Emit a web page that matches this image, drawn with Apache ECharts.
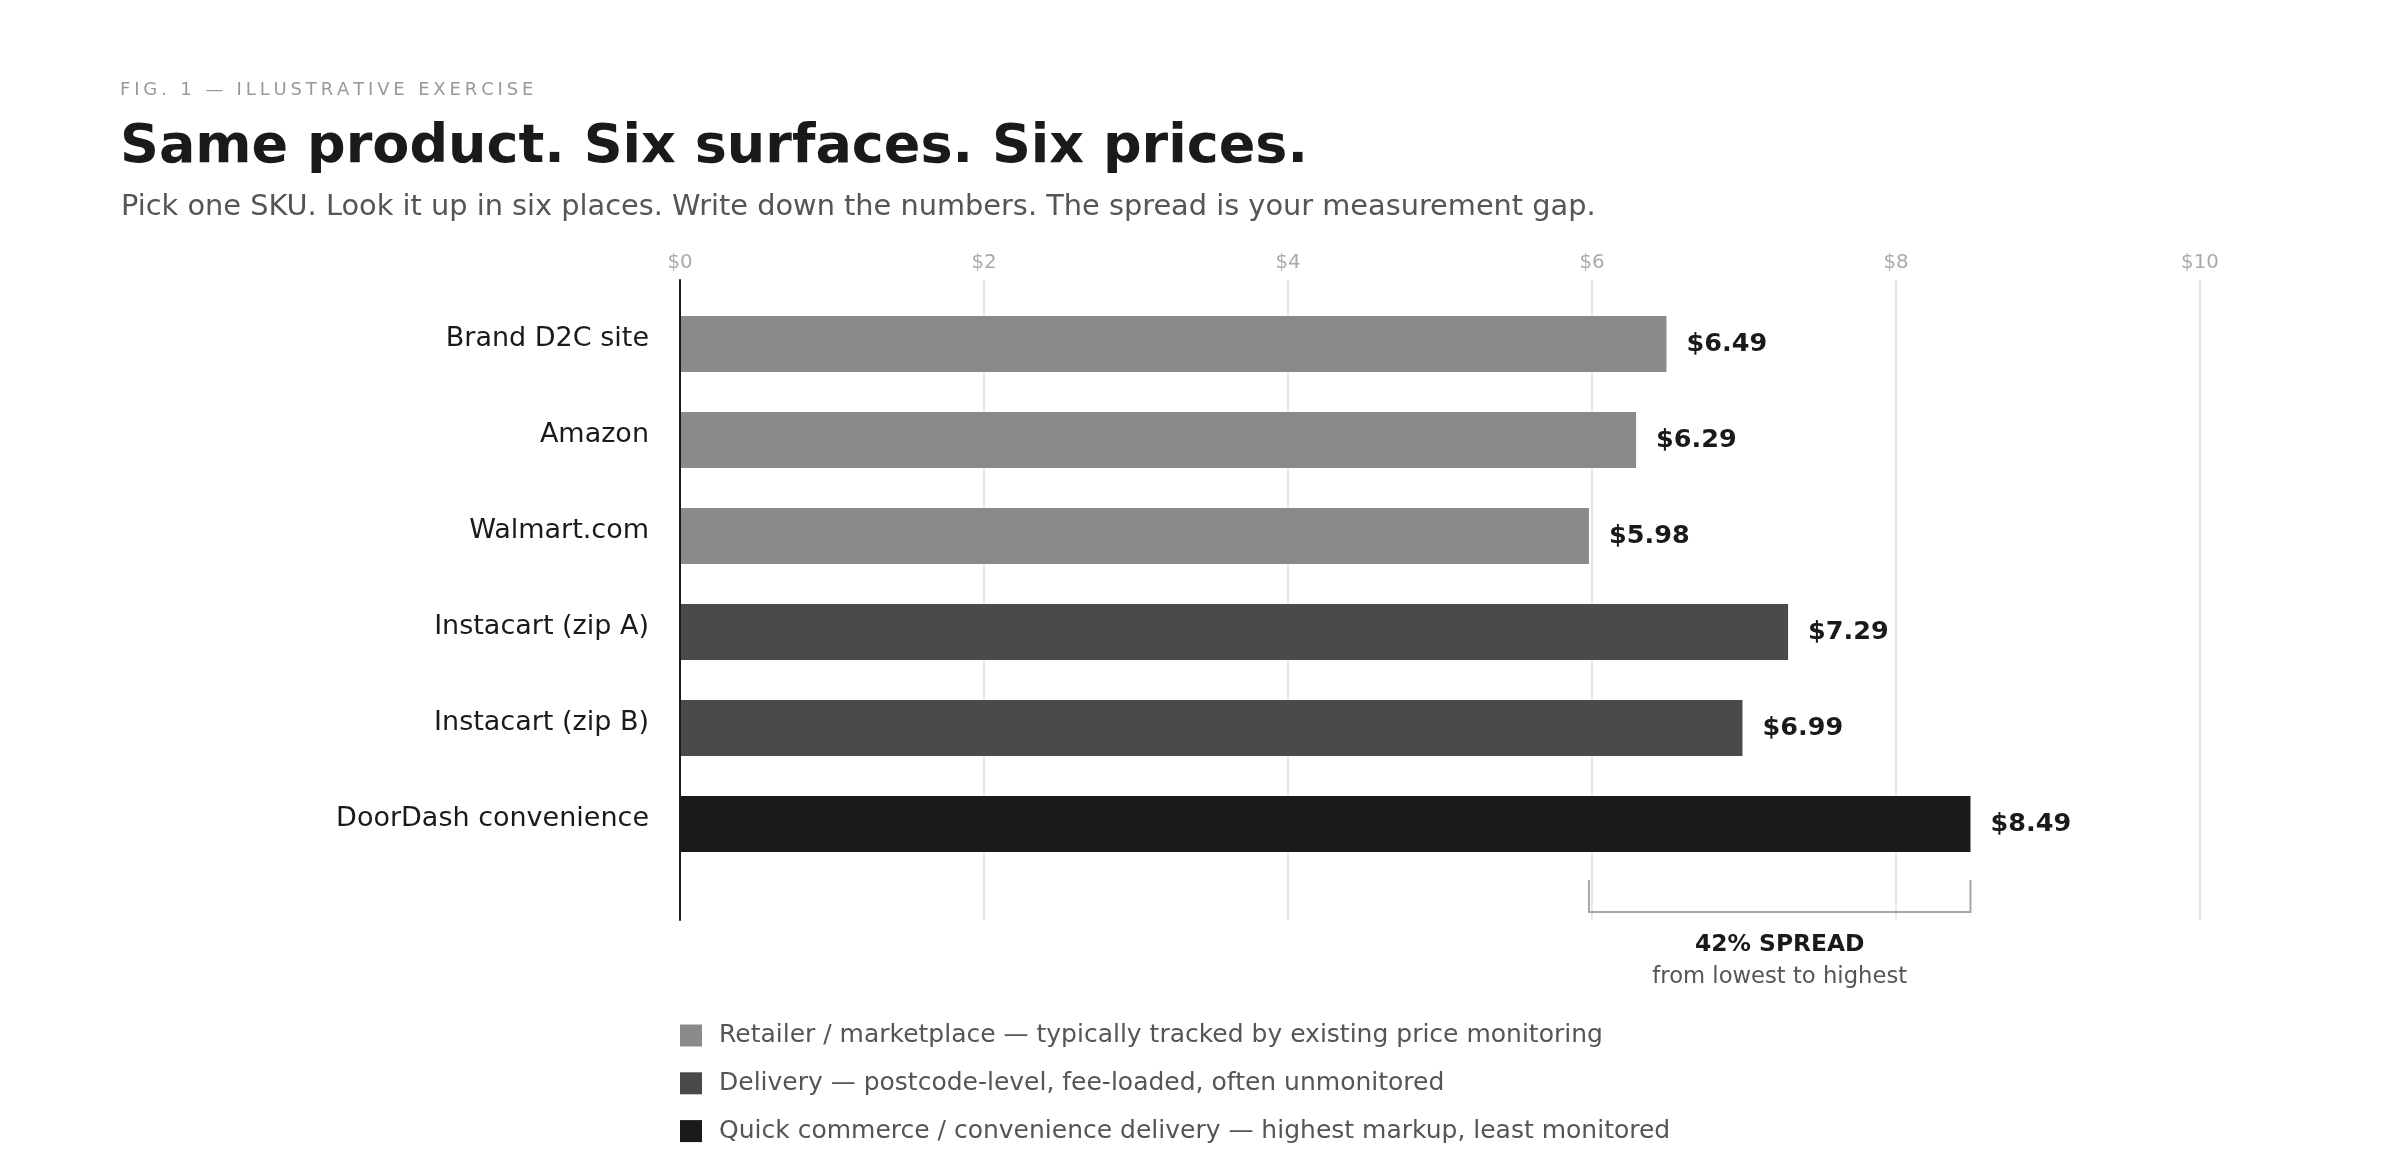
<!DOCTYPE html>
<html>
<head>
<meta charset="utf-8">
<script src="https://cdn.jsdelivr.net/npm/echarts@6/dist/echarts.min.js"></script>
<style>
  html, body { margin: 0; padding: 0; background: #ffffff; }
  #chart { width: 2400px; height: 1160px; }
</style>
</head>
<body>
<div id="chart"></div>
<script>
// ---- data ----
const categories = ['Brand D2C site', 'Amazon', 'Walmart.com', 'Instacart (zip A)', 'Instacart (zip B)', 'DoorDash convenience'];
const prices = [6.49, 6.29, 5.98, 7.29, 6.99, 8.49];
const tierOf = ['retail', 'retail', 'retail', 'delivery', 'delivery', 'quick'];
const tierKeys = ['retail', 'delivery', 'quick'];
const tierNames = [
  'Retailer / marketplace — typically tracked by existing price monitoring',
  'Delivery — postcode-level, fee-loaded, often unmonitored',
  'Quick commerce / convenience delivery — highest markup, least monitored'
];
const tierColors = ['#8a8a8a', '#4a4a4a', '#1a1a1a'];
const axisMin = 0, axisMax = 10, axisStep = 2;
const figLabel = 'FIG. 1 — ILLUSTRATIVE EXERCISE';
const titleText = 'Same product. Six surfaces. Six prices.';
const subtitleText = 'Pick one SKU. Look it up in six places. Write down the numbers. The spread is your measurement gap.';
const spreadSub = 'from lowest to highest';

// ---- derived ----
const low = Math.min(...prices);
const high = Math.max(...prices);
const spreadPct = Math.round((high - low) / low * 100);
const FONT = 'DejaVu Sans';

const figRich = figLabel.split('').map(c => '{c|' + c + '}').join('');

const barSeries = tierKeys.map((k, ti) => ({
  name: tierNames[ti],
  type: 'bar',
  xAxisIndex: 0,
  yAxisIndex: 0,
  barWidth: 56,
  barGap: '-100%',
  itemStyle: { color: tierColors[ti] },
  label: {
    show: true,
    position: 'right',
    distance: 20,
    formatter: p => '$' + Number(p.value).toFixed(2),
    fontFamily: FONT,
    fontSize: 25.5,
    fontWeight: 'bold',
    color: '#1a1a1a'
  },
  data: prices.map((v, i) => tierOf[i] === k ? v : '-')
}));

const bracketSeries = {
  type: 'custom',
  xAxisIndex: 1,
  yAxisIndex: 1,
  silent: true,
  clip: false,
  z: 10,
  data: [[low, high]],
  renderItem: function (params, api) {
    const a = api.coord([api.value(0), 0]);
    const b = api.coord([api.value(1), 0]);
    const base = a[1];
    const mid = (a[0] + b[0]) / 2;
    return {
      type: 'group',
      children: [
        {
          type: 'polyline',
          shape: { points: [[a[0], base - 40], [a[0], base - 8], [b[0], base - 8], [b[0], base - 40]] },
          style: { stroke: '#a6a6a6', lineWidth: 2, fill: null }
        },
        {
          type: 'text',
          style: {
            x: mid, y: base + 24.5, text: spreadPct + '% SPREAD',
            align: 'center', verticalAlign: 'middle',
            font: 'bold 23.4px "DejaVu Sans"', fill: '#1a1a1a'
          }
        },
        {
          type: 'text',
          style: {
            x: mid, y: base + 57, text: spreadSub,
            align: 'center', verticalAlign: 'middle',
            font: '22.7px "DejaVu Sans"', fill: '#555555'
          }
        }
      ]
    };
  }
};

const option = {
  animation: false,
  backgroundColor: '#ffffff',
  textStyle: { fontFamily: FONT },
  title: [
    {
      text: figRich, left: 120, top: 81.5, padding: 0,
      textStyle: { fontWeight: 'normal', rich: { c: { fontFamily: FONT, fontSize: 18, fontWeight: 'normal', color: '#999999', padding: [0, 3.85, 0, 0] } } }
    },
    {
      text: titleText, left: 120, top: 121, padding: 0,
      textStyle: { fontFamily: FONT, fontSize: 54, fontWeight: 'bold', color: '#1a1a1a' }
    },
    {
      text: subtitleText, left: 121, top: 193.5, padding: 0,
      textStyle: { fontFamily: FONT, fontSize: 28.8, fontWeight: 'normal', color: '#555555' }
    }
  ],
  legend: {
    orient: 'vertical',
    left: 680,
    top: 1023,
    padding: 0,
    itemWidth: 22,
    itemHeight: 22,
    itemGap: 22.8,
    icon: 'rect',
    selectedMode: false,
    data: tierNames,
    textStyle: { fontFamily: FONT, fontSize: 25, color: '#555555', padding: [0, 0, 0, 12] }
  },
  grid: [
    { left: 680, right: 200, top: 296, height: 576, containLabel: false },
    { left: 680, right: 200, top: 280, height: 640, containLabel: false }
  ],
  xAxis: [
    { gridIndex: 0, type: 'value', min: axisMin, max: axisMax, interval: axisStep, show: false },
    {
      gridIndex: 1, type: 'value', min: axisMin, max: axisMax, interval: axisStep, position: 'top',
      axisLine: { show: false }, axisTick: { show: false },
      axisLabel: { formatter: v => '$' + v, fontFamily: FONT, fontSize: 19.8, color: '#aaaaaa', margin: 7.5 },
      splitLine: { show: true, lineStyle: { color: '#e6e6e6', width: 2 } }
    }
  ],
  yAxis: [
    {
      gridIndex: 0, type: 'category', data: categories, inverse: true,
      axisLine: { show: false }, axisTick: { show: false }, splitLine: { show: false },
      axisLabel: { fontFamily: FONT, fontSize: 27, color: '#1a1a1a', margin: 31, verticalAlign: 'bottom', lineHeight: 10 }
    },
    {
      gridIndex: 1, type: 'value', min: 0, max: 1, z: 5,
      axisLine: { show: true, lineStyle: { color: '#1a1a1a', width: 2 } },
      axisTick: { show: false }, axisLabel: { show: false }, splitLine: { show: false }
    }
  ],
  series: [...barSeries, bracketSeries]
};

const chart = echarts.init(document.getElementById('chart'), null, { renderer: 'canvas' });
chart.setOption(option);
</script>
</body>
</html>
